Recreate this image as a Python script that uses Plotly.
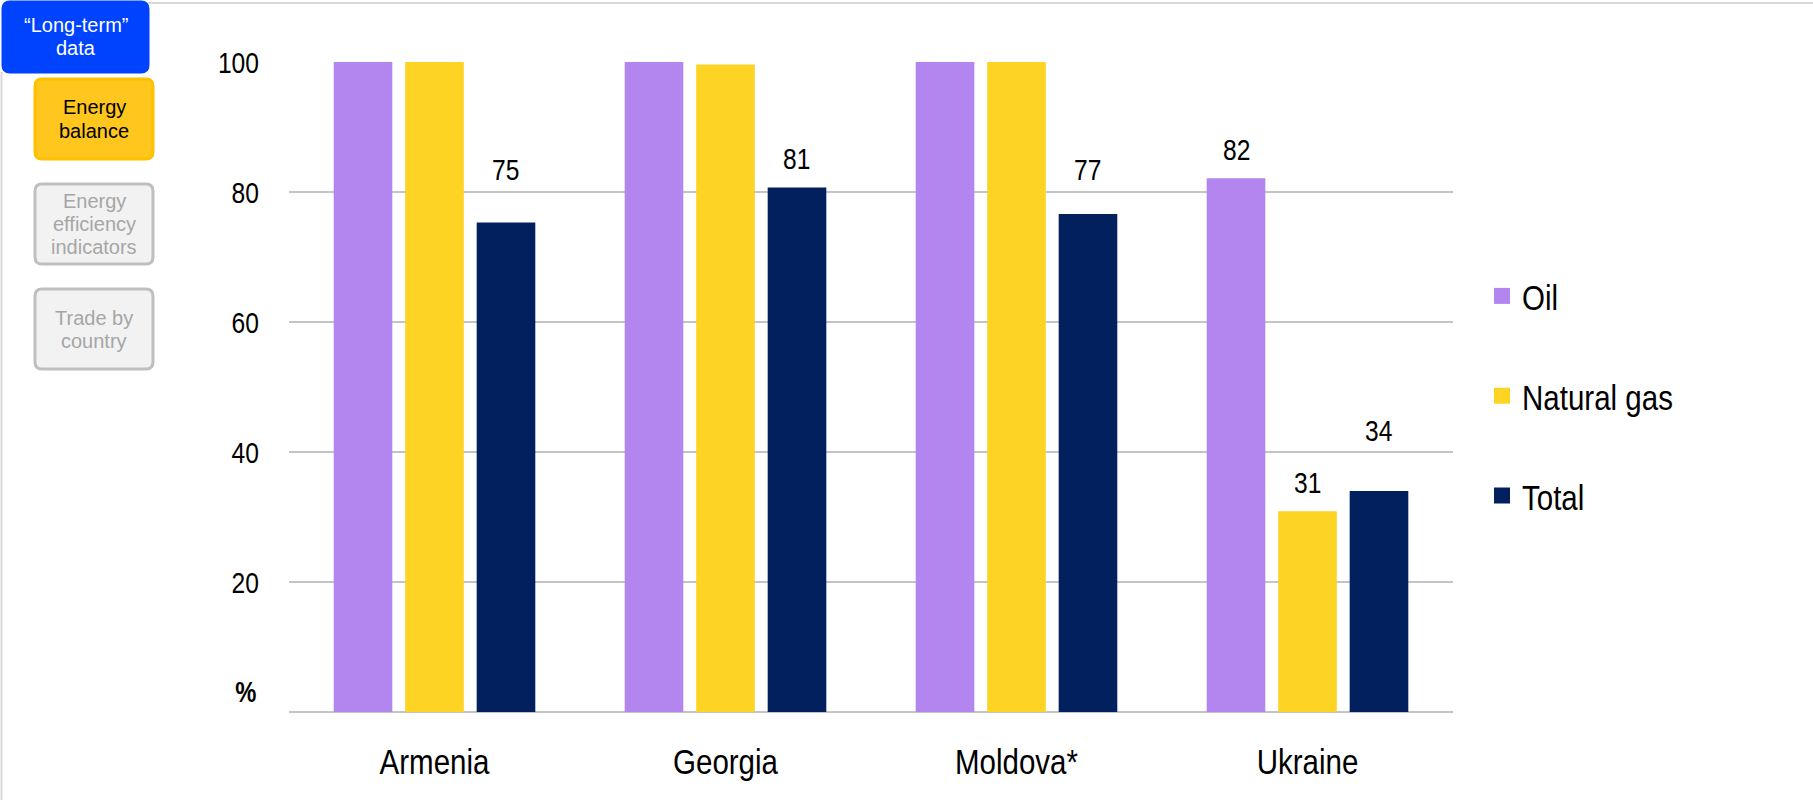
import plotly.graph_objects as go

# Import dependency shares by product, %
countries = ["Armenia", "Georgia", "Moldova*", "Ukraine"]
oil = [100, 100, 100, 82.1]
natural_gas = [100, 99.6, 100, 30.9]
total = [75.3, 80.7, 76.6, 34.0]

series_names = ["Oil", "Natural gas", "Total"]
series_colors = ["#B286EE", "#FDD324", "#02205E"]

# Labelled bars: (series index, category index) and the lift of each label above its bar, px
labelled = [(2, 0), (2, 1), (2, 2), (0, 3), (1, 3), (2, 3)]
label_lift = [53, 29, 45, 29, 29, 61]

# Navigation buttons drawn beside the chart
buttons = [
    {"lines": ["\u201cLong-term\u201d", "data"], "box": (3, 2, 148, 72),
     "fill": "#0043FF", "border": "#0043FF", "text": "#FFFFFF"},
    {"lines": ["Energy", "balance"], "box": (35, 79, 153, 159),
     "fill": "#FFC61E", "border": "#FFC000", "text": "#000000"},
    {"lines": ["Energy", "efficiency", "indicators"], "box": (35, 184, 153, 264),
     "fill": "#F2F2F2", "border": "#BFBFBF", "text": "#A6A6A6"},
    {"lines": ["Trade by", "country"], "box": (35, 289, 153, 369),
     "fill": "#F2F2F2", "border": "#BFBFBF", "text": "#A6A6A6"},
]

W, H = 1813, 800
ML, MR, MT, MB = 289, 360, 62, 88
PW, PH = W - ML - MR, H - MT - MB

# Chart text uses a horizontally compressed sans (see post script); buttons use the plain face
CHART_FONT = "Liberation Sans, Arial, sans-serif"
BUTTON_FONT = "Arimo, Liberation Sans, Arial, sans-serif"
NARROW_SCALE = 0.82

BARGAP = 0.263
BARGROUPGAP = 0.18


def px_x(x):
    return (x - ML) / PW


def px_y(y):
    return (H - MB - y) / PH


def rounded_path(x0, y0, x1, y1, r):
    pts = [
        ("M", [(x0 + r, y0)]),
        ("L", [(x1 - r, y0)]), ("Q", [(x1, y0), (x1, y0 + r)]),
        ("L", [(x1, y1 - r)]), ("Q", [(x1, y1), (x1 - r, y1)]),
        ("L", [(x0 + r, y1)]), ("Q", [(x0, y1), (x0, y1 - r)]),
        ("L", [(x0, y0 + r)]), ("Q", [(x0, y0), (x0 + r, y0)]),
    ]
    out = []
    for cmd, coords in pts:
        out.append(cmd + " ".join(f"{px_x(a):.5f},{px_y(b):.5f}" for a, b in coords))
    return " ".join(out) + " Z"


fig = go.Figure()

for name, vals, color in zip(series_names, [oil, natural_gas, total], series_colors):
    fig.add_trace(go.Bar(
        x=countries, y=vals, name=name, marker=dict(color=color, line=dict(width=0)),
        showlegend=False, hoverinfo="skip",
    ))

# Legend entries with larger square swatches
for name, color in zip(series_names, series_colors):
    fig.add_trace(go.Scatter(
        x=[None], y=[None], mode="markers", name=name, legendgroup=name,
        marker=dict(symbol="square", size=19, color=color),
    ))

series_values = [oil, natural_gas, total]
slot = (1 - BARGAP) / len(series_names)
annotations = []
for (s, c), lift in zip(labelled, label_lift):
    v = series_values[s][c]
    annotations.append(dict(
        x=c + (s - 1) * slot, y=v, xref="x", yref="y", text=f"{v:.0f}",
        showarrow=False, yanchor="middle", yshift=lift,
        font=dict(family=CHART_FONT, size=30, color="#000000"),
    ))

# Axis unit
annotations.append(dict(
    x=px_x(245.5), y=px_y(692), xref="paper", yref="paper", text="<b>%</b>",
    showarrow=False, xanchor="center", yanchor="middle",
    font=dict(family=CHART_FONT, size=29, color="#000000"),
))

shapes = [
    dict(type="line", xref="paper", yref="paper", x0=px_x(148), x1=px_x(W), y0=px_y(3), y1=px_y(3),
         line=dict(color="#D9D9D9", width=2), layer="below"),
    dict(type="line", xref="paper", yref="paper", x0=px_x(1.5), x1=px_x(1.5), y0=px_y(72), y1=px_y(H),
         line=dict(color="#D9D9D9", width=2), layer="below"),
]

line_step = 23
for b in buttons:
    x0, y0, x1, y1 = b["box"]
    shapes.append(dict(
        type="path", xref="paper", yref="paper", path=rounded_path(x0, y0, x1, y1, 7),
        fillcolor=b["fill"], line=dict(color=b["border"], width=3), layer="above",
    ))
    cx, cy = (x0 + x1) / 2, (y0 + y1) / 2
    n = len(b["lines"])
    for k, txt in enumerate(b["lines"]):
        ly = cy + (k - (n - 1) / 2) * line_step
        annotations.append(dict(
            x=px_x(cx), y=px_y(ly), xref="paper", yref="paper", text=txt,
            showarrow=False, xanchor="center", yanchor="middle",
            font=dict(family=BUTTON_FONT, size=20, color=b["text"]),
        ))

fig.update_layout(
    width=W, height=H,
    margin=dict(l=ML, r=MR, t=MT, b=MB, pad=0),
    paper_bgcolor="#FFFFFF", plot_bgcolor="#FFFFFF",
    barmode="group", bargap=BARGAP, bargroupgap=BARGROUPGAP,
    font=dict(family=CHART_FONT, color="#000000"),
    showlegend=True,
    legend=dict(
        x=px_x(1482), y=px_y(396), xanchor="left", yanchor="middle",
        font=dict(family=CHART_FONT, size=36, color="#000000"),
        tracegroupgap=50, bgcolor="rgba(0,0,0,0)",
    ),
    xaxis=dict(
        showgrid=False, showline=False, ticks="",
        tickfont=dict(family=CHART_FONT, size=36, color="#000000"),
        ticklabelstandoff=25,
    ),
    yaxis=dict(
        range=[0, 100], tickvals=[20, 40, 60, 80, 100],
        showgrid=True, gridcolor="#C4C4C4", gridwidth=2,
        zeroline=True, zerolinecolor="#C4C4C4", zerolinewidth=2,
        showline=False, ticks="",
        tickfont=dict(family=CHART_FONT, size=30, color="#000000"),
        ticklabelstandoff=29,
    ),
    annotations=annotations,
    shapes=shapes,
)

# Narrow the chart lettering about each text anchor, leaving the button captions untouched
narrow_js = """
var gd = document.getElementById('{plot_id}');
gd.querySelectorAll('text').forEach(function (t) {
  var ff = t.style.fontFamily || '';
  if (ff.indexOf('Arimo') >= 0) { return; }
  var x = parseFloat(t.getAttribute('x') || '0');
  var tr = t.getAttribute('transform') || '';
  t.setAttribute('transform', tr + ' translate(' + x + ',0) scale(%s,1) translate(' + (-x) + ',0)');
});
""" % NARROW_SCALE

fig.write_html("out.html", post_script=narrow_js)
